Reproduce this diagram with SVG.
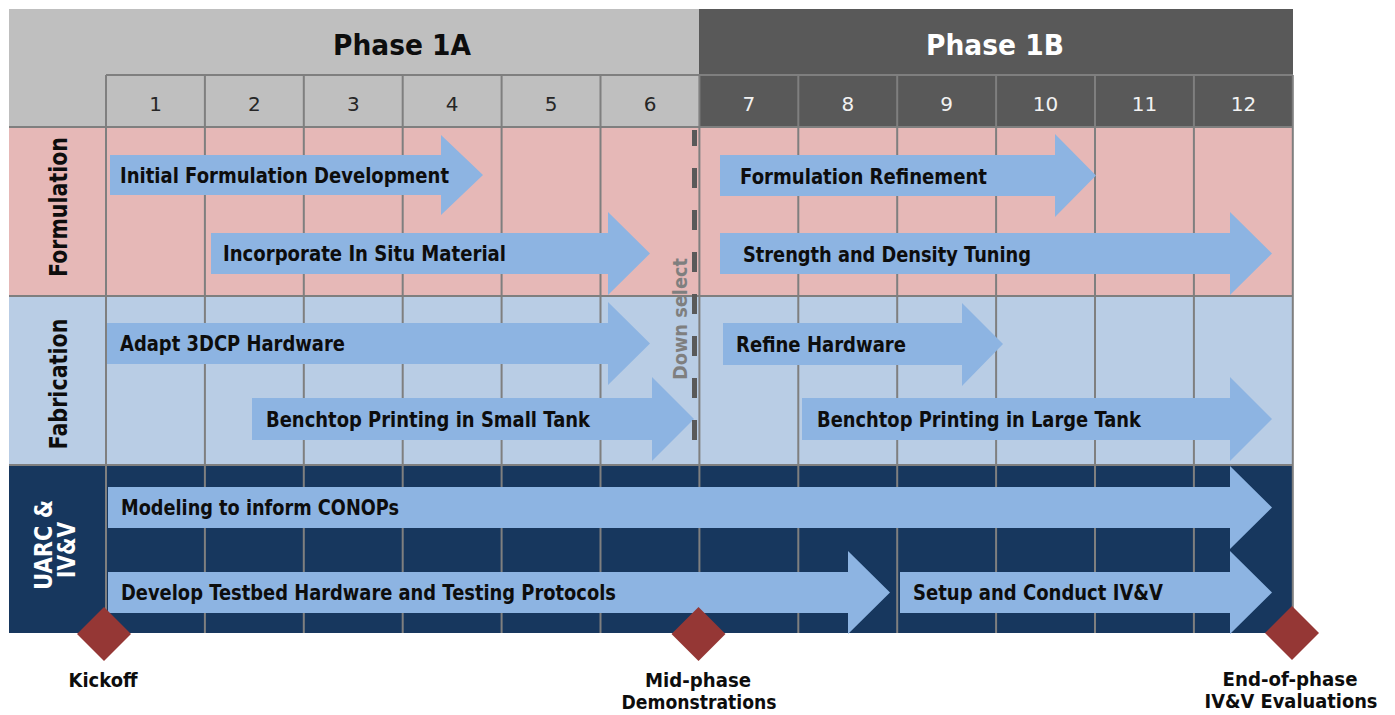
<svg xmlns="http://www.w3.org/2000/svg" width="1395" height="715" viewBox="0 0 1395 715">
  <style>
    text { font-family: "DejaVu Sans", "Liberation Sans", sans-serif; }
    .phase { font-size: 29px; font-weight: bold; text-anchor: middle; }
    .num { font-size: 20px; text-anchor: middle; }
    .rowlbl { font-size: 24px; font-weight: bold; text-anchor: middle; }
    .task { font-size: 20.5px; font-weight: bold; fill: #0d0d0d; }
    .ms { font-size: 19.5px; font-weight: bold; fill: #0d0d0d; text-anchor: middle; }
    .bar { fill: #8db4e2; }
    .grid { stroke: #7f7f7f; stroke-width: 2; fill: none; }
    .diamond { fill: #953735; }
  </style>

  <!-- band backgrounds -->
  <g id="backgrounds">
    <rect x="9" y="9" width="690" height="118" fill="#bfbfbf"/>
    <rect x="699" y="9" width="594" height="118" fill="#595959"/>
    <rect x="9" y="127" width="1284" height="169" fill="#e6b8b7"/>
    <rect x="9" y="296" width="1284" height="169" fill="#b9cde5"/>
    <rect x="9" y="465" width="1284" height="168" fill="#17375e"/>
  </g>

  <!-- month grid -->
  <g id="grid" class="grid">
    <path d="M106,75 H1293 M9,127 H1293 M9,296 H1293 M9,465 H1293"/>
    <path d="M106,75 V633 M204.9,75 V633 M303.8,75 V633 M402.7,75 V633 M501.6,75 V633 M600.5,75 V633 M699.4,75 V633 M798.3,75 V633 M897.2,75 V633 M996.1,75 V633 M1095,75 V633 M1193.9,75 V633 M1292.8,75 V633"/>
  </g>

  <!-- phase titles -->
  <g id="phase-1a">
    <text class="phase" x="402" y="55" fill="#0d0d0d" textLength="138" lengthAdjust="spacingAndGlyphs">Phase 1A</text>
  </g>
  <g id="phase-1b">
    <text class="phase" x="995" y="55" fill="#ffffff" textLength="138" lengthAdjust="spacingAndGlyphs">Phase 1B</text>
  </g>

  <!-- month numbers -->
  <g id="months" class="num">
    <text x="155.5" y="111" fill="#262626">1</text>
    <text x="254.4" y="111" fill="#262626">2</text>
    <text x="353.3" y="111" fill="#262626">3</text>
    <text x="452.2" y="111" fill="#262626">4</text>
    <text x="551.1" y="111" fill="#262626">5</text>
    <text x="650" y="111" fill="#262626">6</text>
    <text x="748.9" y="111" fill="#f2f2f2">7</text>
    <text x="847.8" y="111" fill="#f2f2f2">8</text>
    <text x="946.7" y="111" fill="#f2f2f2">9</text>
    <text x="1045.6" y="111" fill="#f2f2f2">10</text>
    <text x="1144.5" y="111" fill="#f2f2f2">11</text>
    <text x="1243.4" y="111" fill="#f2f2f2">12</text>
  </g>

  <!-- workstream labels -->
  <g id="row-formulation">
    <text class="rowlbl" transform="translate(67,207) rotate(-90)" fill="#0d0d0d" textLength="140" lengthAdjust="spacingAndGlyphs">Formulation</text>
  </g>
  <g id="row-fabrication">
    <text class="rowlbl" transform="translate(67,384) rotate(-90)" fill="#0d0d0d" textLength="131" lengthAdjust="spacingAndGlyphs">Fabrication</text>
  </g>
  <g id="row-uarc">
    <text class="rowlbl" transform="translate(52,545) rotate(-90)" fill="#ffffff" font-size="21" textLength="90" lengthAdjust="spacingAndGlyphs">UARC &amp;</text>
    <text class="rowlbl" transform="translate(75,550) rotate(-90)" fill="#ffffff" font-size="21" textLength="56" lengthAdjust="spacingAndGlyphs">IV&amp;V</text>
  </g>

  <!-- task bars -->
  <g id="task-initial-formulation">
    <path class="bar" d="M110,155 H441 V135 L483,175 L441,215 V195 H110 Z"/>
    <text class="task" x="120" y="183" textLength="329" lengthAdjust="spacingAndGlyphs">Initial Formulation Development</text>
  </g>
  <g id="task-in-situ">
    <path class="bar" d="M211,233 H608 V212 L650,253.5 L608,295 V274 H211 Z"/>
    <text class="task" x="223" y="261" textLength="283" lengthAdjust="spacingAndGlyphs">Incorporate In Situ Material</text>
  </g>
  <g id="task-formulation-refinement">
    <path class="bar" d="M720,155 H1055 V134 L1096,175.5 L1055,217 V196 H720 Z"/>
    <text class="task" x="740" y="184" textLength="247" lengthAdjust="spacingAndGlyphs">Formulation Refinement</text>
  </g>
  <g id="task-strength-density">
    <path class="bar" d="M720,233 H1230 V212 L1272,253.5 L1230,295 V274 H720 Z"/>
    <text class="task" x="743" y="262" textLength="288" lengthAdjust="spacingAndGlyphs">Strength and Density Tuning</text>
  </g>
  <g id="task-adapt-hardware">
    <path class="bar" d="M107,323 H608 V302 L650,343.5 L608,385 V364 H107 Z"/>
    <text class="task" x="120" y="351" textLength="225" lengthAdjust="spacingAndGlyphs">Adapt 3DCP Hardware</text>
  </g>
  <g id="task-small-tank">
    <path class="bar" d="M252,398 H652 V377 L694,419 L652,461 V440 H252 Z"/>
    <text class="task" x="266" y="427" textLength="324" lengthAdjust="spacingAndGlyphs">Benchtop Printing in Small Tank</text>
  </g>
  <g id="task-refine-hardware">
    <path class="bar" d="M723,323 H962 V303 L1003,344 L962,386 V365 H723 Z"/>
    <text class="task" x="736" y="352" textLength="170" lengthAdjust="spacingAndGlyphs">Refine Hardware</text>
  </g>
  <g id="task-large-tank">
    <path class="bar" d="M802,398 H1230 V377 L1272,419 L1230,461 V440 H802 Z"/>
    <text class="task" x="817" y="427" textLength="324" lengthAdjust="spacingAndGlyphs">Benchtop Printing in Large Tank</text>
  </g>
  <g id="task-modeling">
    <path class="bar" d="M108,487 H1230 V466 L1272,507.5 L1230,549 V528 H108 Z"/>
    <text class="task" x="121" y="515" textLength="278" lengthAdjust="spacingAndGlyphs">Modeling to inform CONOPs</text>
  </g>
  <g id="task-testbed">
    <path class="bar" d="M108,572 H848 V551 L890,592.5 L848,634 V613 H108 Z"/>
    <text class="task" x="121" y="600" textLength="495" lengthAdjust="spacingAndGlyphs">Develop Testbed Hardware and Testing Protocols</text>
  </g>
  <g id="task-ivv">
    <path class="bar" d="M900,572 H1230 V551 L1272,592.5 L1230,634 V613 H900 Z"/>
    <text class="task" x="913" y="600" textLength="250" lengthAdjust="spacingAndGlyphs">Setup and Conduct IV&amp;V</text>
  </g>

  <!-- down-select gate between phases -->
  <g id="connectors">
    <line x1="694.5" y1="130" x2="694.5" y2="450" stroke="#595959" stroke-width="5" stroke-dasharray="20 22" stroke-dashoffset="4"/>
  </g>
  <g id="down-select">
    <text transform="translate(687,319) rotate(-90)" text-anchor="middle" font-size="19.5" font-weight="bold" fill="#7f7f7f" textLength="122" lengthAdjust="spacingAndGlyphs">Down select</text>
  </g>

  <!-- milestones -->
  <g id="milestone-kickoff">
    <polygon class="diamond" points="104,607 131,634 104,661 77,634"/>
    <text class="ms" x="103" y="687" textLength="69" lengthAdjust="spacingAndGlyphs">Kickoff</text>
  </g>
  <g id="milestone-mid-phase">
    <polygon class="diamond" points="698.5,607 725.5,634 698.5,661 671.5,634"/>
    <text class="ms" x="698" y="687" textLength="106" lengthAdjust="spacingAndGlyphs">Mid-phase</text>
    <text class="ms" x="699" y="709" textLength="155" lengthAdjust="spacingAndGlyphs">Demonstrations</text>
  </g>
  <g id="milestone-end-of-phase">
    <polygon class="diamond" points="1292,606 1319,633 1292,660 1265,633"/>
    <text class="ms" x="1290" y="686" textLength="135" lengthAdjust="spacingAndGlyphs">End-of-phase</text>
    <text class="ms" x="1291" y="708" textLength="173" lengthAdjust="spacingAndGlyphs">IV&amp;V Evaluations</text>
  </g>
</svg>
